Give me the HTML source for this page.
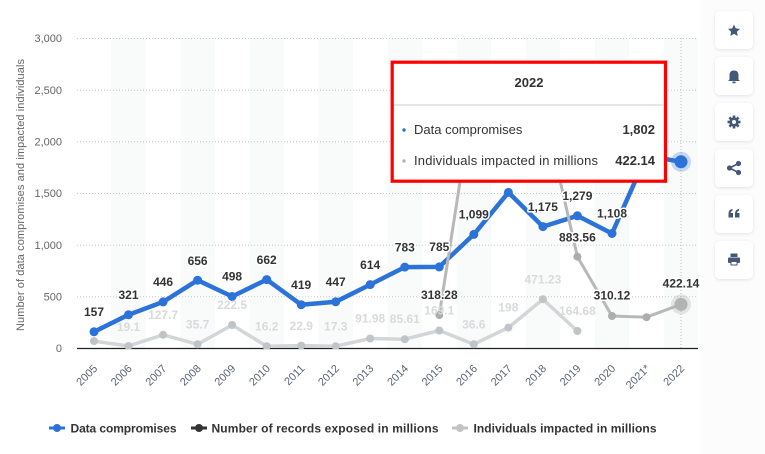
<!DOCTYPE html>
<html><head><meta charset="utf-8"><style>
html,body{margin:0;padding:0;background:#fff;width:765px;height:454px;overflow:hidden}
svg{display:block;font-family:"Liberation Sans",Arial,sans-serif}
.yl{font-size:11px;fill:#666;text-anchor:end}
.xl{font-size:11px;fill:#5b6477;text-anchor:end;dominant-baseline:central}
.lb{font-size:12px;font-weight:bold;fill:#333;text-anchor:middle;stroke:#fff;stroke-width:3px;paint-order:stroke;stroke-linejoin:round}
.lf{font-size:12px;font-weight:bold;fill:#d8dadc;text-anchor:middle}
.grid{stroke:#c8c8c8;stroke-width:1;stroke-dasharray:1,2}
.leg{font-size:12px;font-weight:bold;fill:#333}
</style></head><body>
<svg width="765" height="454" viewBox="0 0 765 454" xmlns="http://www.w3.org/2000/svg">
<!-- sidebar background -->
<rect x="700" y="0" width="65" height="454" fill="#fcfcfd"/>
<!-- bands -->
<g fill="#f9fafa">
<rect x="111.2" y="38" width="34.5" height="310"/>
<rect x="180.3" y="38" width="34.5" height="310"/>
<rect x="249.4" y="38" width="34.5" height="310"/>
<rect x="318.5" y="38" width="34.5" height="310"/>
<rect x="387.5" y="38" width="34.5" height="310"/>
<rect x="456.6" y="38" width="34.5" height="310"/>
<rect x="525.7" y="38" width="34.5" height="310"/>
<rect x="594.7" y="38" width="34.5" height="310"/>
<rect x="663.8" y="38" width="34.5" height="310"/>
</g>
<!-- grid -->
<g class="grid">
<line x1="77" y1="38.5" x2="698" y2="38.5"/>
<line x1="77" y1="90.2" x2="698" y2="90.2"/>
<line x1="77" y1="141.8" x2="698" y2="141.8"/>
<line x1="77" y1="193.5" x2="698" y2="193.5"/>
<line x1="77" y1="245.2" x2="698" y2="245.2"/>
<line x1="77" y1="296.8" x2="698" y2="296.8"/>
</g>
<line x1="681" y1="38" x2="681" y2="348" stroke="#bbb" stroke-width="1" stroke-dasharray="1,2"/>
<line x1="77" y1="348.5" x2="698" y2="348.5" stroke="#222" stroke-width="1.2"/>
<!-- y labels -->
<text class="yl" x="62" y="42">3,000</text>
<text class="yl" x="62" y="94">2,500</text>
<text class="yl" x="62" y="145.5">2,000</text>
<text class="yl" x="62" y="197">1,500</text>
<text class="yl" x="62" y="249">1,000</text>
<text class="yl" x="62" y="300.5">500</text>
<text class="yl" x="62" y="352">0</text>
<text transform="translate(24,195) rotate(-90)" font-size="11" fill="#666" text-anchor="middle" textLength="272">Number of data compromises and impacted individuals</text>
<!-- x labels -->
<g class="xl">
<text transform="translate(96,367) rotate(-45)">2005</text>
<text transform="translate(130.5,367) rotate(-45)">2006</text>
<text transform="translate(165.1,367) rotate(-45)">2007</text>
<text transform="translate(199.6,367) rotate(-45)">2008</text>
<text transform="translate(234.1,367) rotate(-45)">2009</text>
<text transform="translate(268.7,367) rotate(-45)">2010</text>
<text transform="translate(303.2,367) rotate(-45)">2011</text>
<text transform="translate(337.7,367) rotate(-45)">2012</text>
<text transform="translate(372.2,367) rotate(-45)">2013</text>
<text transform="translate(406.8,367) rotate(-45)">2014</text>
<text transform="translate(441.3,367) rotate(-45)">2015</text>
<text transform="translate(475.8,367) rotate(-45)">2016</text>
<text transform="translate(510.4,367) rotate(-45)">2017</text>
<text transform="translate(544.9,367) rotate(-45)">2018</text>
<text transform="translate(579.4,367) rotate(-45)">2019</text>
<text transform="translate(614,367) rotate(-45)">2020</text>
<text transform="translate(648.5,367) rotate(-45)">2021*</text>
<text transform="translate(683,367) rotate(-45)">2022</text>
</g>
<clipPath id="pc"><rect x="77" y="38" width="621" height="311"/></clipPath>
<g clip-path="url(#pc)">
<!-- faded series -->
<polyline fill="none" stroke="#d3d6d9" stroke-width="3.5" stroke-linejoin="round" points="94,341.1 128.5,346 163.1,334.8 197.6,344.3 232.1,325 266.7,346.3 301.2,345.6 335.7,346.2 370.2,338.5 404.8,339.2 439.3,330.5 473.8,344.2 508.4,327.6 542.9,299.3 577.4,331"/>
<g fill="#bfc4c9">
<circle cx="94" cy="341.1" r="4"/><circle cx="128.5" cy="346" r="4"/><circle cx="163.1" cy="334.8" r="4"/><circle cx="197.6" cy="344.3" r="4"/><circle cx="232.1" cy="325" r="4"/><circle cx="266.7" cy="346.3" r="4"/><circle cx="301.2" cy="345.6" r="4"/><circle cx="335.7" cy="346.2" r="4"/><circle cx="370.2" cy="338.5" r="4"/><circle cx="404.8" cy="339.2" r="4"/><circle cx="439.3" cy="330.5" r="4"/><circle cx="473.8" cy="344.2" r="4"/><circle cx="508.4" cy="327.6" r="4"/><circle cx="542.9" cy="299.3" r="4"/><circle cx="577.4" cy="331" r="4"/>
</g>
<!-- blue series -->
<polyline fill="none" stroke="#2c73d9" stroke-width="4.5" stroke-linejoin="round" points="94,331.8 128.5,314.8 163.1,301.9 197.6,280.2 232.1,296.5 266.7,279.6 301.2,304.7 335.7,301.8 370.2,284.6 404.8,267.1 439.3,266.9 473.8,234.4 508.4,192.4 542.9,226.6 577.4,215.8 612,233.5 646.5,155.6 681,161.8"/>
<g fill="#2c73d9">
<circle cx="94" cy="331.8" r="4.5"/><circle cx="128.5" cy="314.8" r="4.5"/><circle cx="163.1" cy="301.9" r="4.5"/><circle cx="197.6" cy="280.2" r="4.5"/><circle cx="232.1" cy="296.5" r="4.5"/><circle cx="266.7" cy="279.6" r="4.5"/><circle cx="301.2" cy="304.7" r="4.5"/><circle cx="335.7" cy="301.8" r="4.5"/><circle cx="370.2" cy="284.6" r="4.5"/><circle cx="404.8" cy="267.1" r="4.5"/><circle cx="439.3" cy="266.9" r="4.5"/><circle cx="473.8" cy="234.4" r="4.5"/><circle cx="508.4" cy="192.4" r="4.5"/><circle cx="542.9" cy="226.6" r="4.5"/><circle cx="577.4" cy="215.8" r="4.5"/><circle cx="612" cy="233.5" r="4.5"/><circle cx="646.5" cy="155.6" r="4.5"/>
</g>
<!-- individuals series -->
<polyline fill="none" stroke="#b8b8b8" stroke-width="3" stroke-linejoin="round" points="439.3,315.1 473.8,93 508.4,150 542.9,105 577.4,256.7 612,316 646.5,317.2 681,304.4"/>
<g fill="#adadad">
<circle cx="439.3" cy="315.1" r="4"/><circle cx="577.4" cy="256.7" r="4"/><circle cx="612" cy="316" r="4"/><circle cx="646.5" cy="317.2" r="4"/>
</g>
</g>
<!-- hover markers -->
<circle cx="681" cy="304.4" r="10" fill="#b0b0b0" opacity="0.3"/>
<circle cx="681" cy="304.4" r="6.5" fill="#b3b3b3"/>
<circle cx="681" cy="161.8" r="10" fill="#2c73d9" opacity="0.25"/>
<circle cx="681" cy="161.8" r="6.5" fill="#2c73d9"/>
<!-- faded labels -->
<g class="lf">
<text x="128.5" y="331">19.1</text>
<text x="163.1" y="319">127.7</text>
<text x="197.6" y="328.5">35.7</text>
<text x="232.1" y="309">222.5</text>
<text x="266.7" y="330.5">16.2</text>
<text x="301.2" y="330">22.9</text>
<text x="335.7" y="330.5">17.3</text>
<text x="370.2" y="322.5">91.98</text>
<text x="404.8" y="323">85.61</text>
<text x="439.3" y="314.5">169.1</text>
<text x="473.8" y="328.5">36.6</text>
<text x="508.4" y="311.5">198</text>
<text x="542.9" y="283.5">471.23</text>
<text x="577.4" y="315">164.68</text>
</g>
<!-- blue labels -->
<g class="lb">
<text x="94" y="316">157</text>
<text x="128.5" y="299">321</text>
<text x="163.1" y="286">446</text>
<text x="197.6" y="265">656</text>
<text x="232.1" y="280.5">498</text>
<text x="266.7" y="264">662</text>
<text x="301.2" y="289">419</text>
<text x="335.7" y="286">447</text>
<text x="370.2" y="269">614</text>
<text x="404.8" y="251.5">783</text>
<text x="439.3" y="251">785</text>
<text x="473.8" y="218.5">1,099</text>
<text x="542.9" y="211">1,175</text>
<text x="577.4" y="200">1,279</text>
<text x="612" y="217.5">1,108</text>
<text x="439.3" y="299">318.28</text>
<text x="577.4" y="241.5">883.56</text>
<text x="612" y="299.5">310.12</text>
<text x="681" y="287.5">422.14</text>
</g>
<!-- tooltip -->
<rect x="392.2" y="62.2" width="273.3" height="119" fill="#fff" stroke="#ff0000" stroke-width="3.2"/>
<line x1="394" y1="105" x2="664" y2="105" stroke="#ccc" stroke-width="1"/>
<text x="529" y="87" font-size="13" font-weight="bold" fill="#333" text-anchor="middle">2022</text>
<circle cx="404" cy="130" r="1.7" fill="#2c73d9"/>
<circle cx="404" cy="161" r="1.7" fill="#b3b3b3"/>
<text x="414" y="134" font-size="13" fill="#333">Data compromises</text>
<text x="655" y="134" font-size="13" font-weight="bold" fill="#333" text-anchor="end">1,802</text>
<text x="414" y="165" font-size="13" fill="#333" textLength="184">Individuals impacted in millions</text>
<text x="655" y="165" font-size="13" font-weight="bold" fill="#333" text-anchor="end">422.14</text>
<!-- legend -->
<line x1="49" y1="428" x2="65" y2="428" stroke="#2c73d9" stroke-width="3"/>
<circle cx="57" cy="428" r="4" fill="#2c73d9"/>
<text class="leg" x="70.5" y="432.5" textLength="106">Data compromises</text>
<line x1="191" y1="428" x2="207" y2="428" stroke="#333" stroke-width="3"/>
<circle cx="199" cy="428" r="4" fill="#333"/>
<text class="leg" x="211.5" y="432.5" textLength="227">Number of records exposed in millions</text>
<line x1="452" y1="428" x2="468" y2="428" stroke="#c4c4c4" stroke-width="3"/>
<circle cx="460" cy="428" r="4" fill="#c4c4c4"/>
<text class="leg" x="473.5" y="432.5" textLength="183">Individuals impacted in millions</text>
<!-- sidebar buttons -->
<defs><filter id="sh" x="-30%" y="-30%" width="160%" height="160%"><feDropShadow dx="0" dy="1" stdDeviation="1.5" flood-color="#000" flood-opacity="0.1"/></filter></defs>
<g fill="#fff" filter="url(#sh)">
<rect x="715" y="11" width="38" height="38" rx="5"/>
<rect x="715" y="57" width="38" height="38" rx="5"/>
<rect x="715" y="103" width="38" height="38" rx="5"/>
<rect x="715" y="149" width="38" height="38" rx="5"/>
<rect x="715" y="195" width="38" height="38" rx="5"/>
<rect x="715" y="241" width="38" height="38" rx="5"/>
</g>
<g fill="#46587a" stroke="none">
<!-- star -->
<polygon points="734,24.5 735.8,28.4 740,28.9 736.9,31.8 737.7,36 734,33.9 730.3,36 731.1,31.8 728,28.9 732.2,28.4"/>
<!-- bell -->
<path d="M729.5,79.5 L729.5,75 Q729.5,70.5 734,70.5 Q738.5,70.5 738.5,75 L738.5,79.5 L740,81 L728,81 Z"/>
<rect x="732.3" y="81.5" width="3.4" height="1.8" rx="0.8"/>
<!-- gear -->
<circle cx="734" cy="122" r="4.6"/>
<g stroke="#46587a" stroke-width="2.6">
<line x1="734" y1="115.5" x2="734" y2="128.5"/><line x1="727.5" y1="122" x2="740.5" y2="122"/>
<line x1="729.4" y1="117.4" x2="738.6" y2="126.6"/><line x1="738.6" y1="117.4" x2="729.4" y2="126.6"/>
</g>
<circle cx="734" cy="122" r="2" fill="#fff"/>
<!-- share -->
<g stroke="#46587a" stroke-width="1.8"><line x1="729.5" y1="168" x2="738.5" y2="163.5"/><line x1="729.5" y1="168" x2="738.5" y2="172.5"/></g>
<circle cx="729.5" cy="168" r="2.6"/><circle cx="738.5" cy="163.5" r="2.6"/><circle cx="738.5" cy="172.5" r="2.6"/>
<!-- quote -->
<path d="M728.5,217.5 L728.5,213.5 Q728.5,209.5 732.5,209 L732.5,210.8 Q730.8,211.2 730.6,213 L733,213 L733,217.5 Z"/>
<path d="M735,217.5 L735,213.5 Q735,209.5 739,209 L739,210.8 Q737.3,211.2 737.1,213 L739.5,213 L739.5,217.5 Z"/>
<!-- printer -->
<rect x="730.5" y="253.5" width="7" height="3.5"/>
<rect x="728" y="257.5" width="12" height="5.5" rx="1"/>
<rect x="730.5" y="261" width="7" height="4.5" fill="#46587a"/>
<rect x="731.5" y="262" width="5" height="2.5" fill="#fff"/>
</g>
</svg>
</body></html>
